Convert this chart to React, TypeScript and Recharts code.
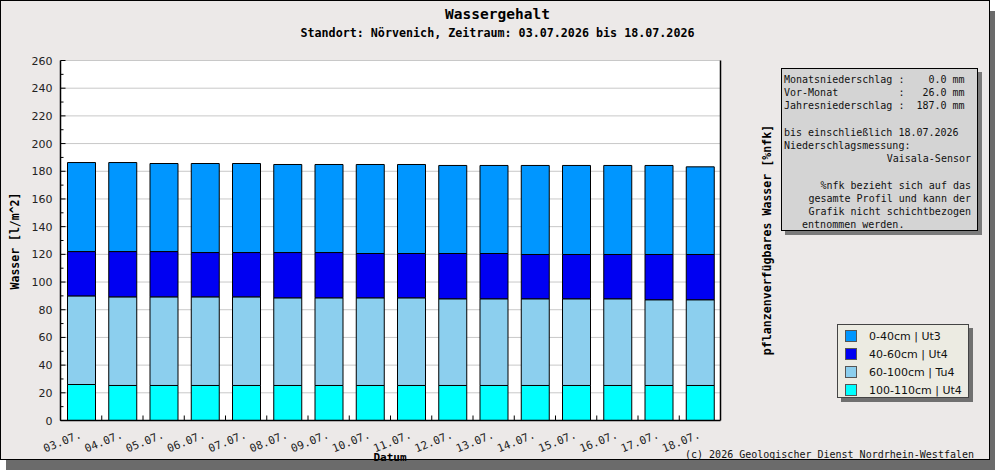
import { Bar, BarChart, CartesianGrid, XAxis, YAxis } from 'recharts'

const dates = ['03.07.', '04.07.', '05.07.', '06.07.', '07.07.', '08.07.', '09.07.', '10.07.', '11.07.', '12.07.', '13.07.', '14.07.', '15.07.', '16.07.', '17.07.', '18.07.']

// Wasser [l/m^2] je Schicht, von unten nach oben gestapelt
const layer100to110 = [26.0, 25.3, 25.3, 25.3, 25.3, 25.3, 25.3, 25.3, 25.3, 25.3, 25.3, 25.3, 25.3, 25.3, 25.3, 25.3]
const layer60to100 = [64.0, 64.0, 64.0, 64.0, 64.0, 63.3, 63.3, 63.3, 63.3, 62.6, 62.6, 62.6, 62.6, 62.6, 61.9, 61.9]
const layer40to60 = [32.0, 32.7, 32.7, 32.0, 32.0, 32.7, 32.7, 32.0, 32.0, 32.7, 32.7, 32.0, 32.0, 32.0, 32.7, 32.7]
const layer0to40 = [64.3, 64.3, 63.6, 64.3, 64.3, 63.6, 63.6, 64.3, 64.3, 63.6, 63.6, 64.3, 64.3, 64.3, 64.3, 63.3]

const series = [
    { key: 's100', name: '100-110cm | Ut4', values: layer100to110, color: '#00ffff' },
    { key: 's60', name: '60-100cm | Tu4', values: layer60to100, color: '#8ccfee' },
    { key: 's40', name: '40-60cm | Ut4', values: layer40to60, color: '#0000f2' },
    { key: 's0', name: '0-40cm | Ut3', values: layer0to40, color: '#0096ff' },
]

const leftTicks = [0, 10, 20, 30, 40, 50, 60, 70, 80, 90, 100, 110, 120, 130, 140, 150, 160, 170, 180, 190, 200, 210, 220, 230, 240, 250, 260]
const gridValues = [20, 40, 60, 80, 100, 120, 140, 160, 180, 200, 220, 240, 260]
const rightTicks = [0, 10, 20, 30, 40, 50, 60, 70, 80, 90, 100, 110, 120, 130, 140]

const infoLines = [
    { text: 'Monatsniederschlag :    0.0 mm' },
    { text: 'Vor-Monat          :   26.0 mm' },
    { text: 'Jahresniederschlag :  187.0 mm' },
    { text: ' ' },
    { text: 'bis einschließlich 18.07.2026' },
    { text: 'Niederschlagsmessung:' },
    { text: 'Vaisala-Sensor', right: true },
    { text: ' ' },
    { text: '%nfk bezieht sich auf das', right: true },
    { text: 'gesamte Profil und kann der', right: true },
    { text: 'Grafik nicht schichtbezogen', right: true },
    { text: '   entnommen werden.' },
]

const data = dates.map((date, i) => {
    const row: Record<string, string | number> = { date }
    series.forEach((s) => (row[s.key] = s.values[i]))
    return row
})

const mono = '"DejaVu Sans Mono", monospace'
const sans = '"DejaVu Sans", sans-serif'
const BAND = 660 / dates.length

const LeftTick = (props: any) => {
    const { x, y, payload } = props
    const major = payload.value % 20 === 0
    return (
        <g>
            <line x1={x + 8} x2={x + 8 + (major ? 5 : 3)} y1={y} y2={y} stroke="#000" />
            {major && (
                <text x={x} y={y + 4} textAnchor="end" fontSize={11} fill="#222" fontFamily={sans}>
                    {payload.value}
                </text>
            )}
        </g>
    )
}

const RightTick = (props: any) => {
    const { x, y, payload } = props
    const major = payload.value % 20 === 0
    return (
        <g>
            <line x1={x - 7} x2={x - 7 - (major ? 5 : 3)} y1={y} y2={y} stroke="#000" />
            {major && (
                <text x={x} y={y + 4} textAnchor="start" fontSize={11} fill="#222" fontFamily={sans}>
                    {payload.value}
                </text>
            )}
        </g>
    )
}

const DateTick = (props: any) => {
    const { x, y, payload } = props
    const tx = x + 1
    const ty = y + 17
    return (
        <g>
            <line x1={x - BAND / 2} x2={x - BAND / 2} y1={y} y2={y - 5} stroke="#000" />
            <text x={tx} y={ty} textAnchor="end" fontSize={11} fill="#222" fontFamily={mono} transform={`rotate(-22, ${tx}, ${ty})`}>
                {payload.value}
            </text>
        </g>
    )
}

export default function App() {
    return (
        <div style={{ position: 'absolute', left: 0, top: 0, width: 995, height: 470, overflow: 'hidden' }}>
            <div
                style={{
                    position: 'absolute',
                    left: 0,
                    top: 0,
                    width: 988,
                    height: 458,
                    border: '1px solid #000',
                    background: '#ece9e8',
                    boxShadow: '6px 11px 0 #6b6b6b',
                }}
            />
            <div style={{ position: 'absolute', left: 0, top: 0 }}>
                <BarChart width={995} height={470} data={data} margin={{ top: 60.5, right: 234.5, bottom: 19.5, left: 0 }}>
                    <CartesianGrid vertical={false} horizontalValues={gridValues} stroke="#c8c8c8" fill="#ffffff" />
                    <XAxis dataKey="date" interval={0} height={30} tickSize={0} tickMargin={0} tick={<DateTick />} axisLine={{ stroke: '#000', strokeWidth: 1.5 }} />
                    <YAxis
                        yAxisId={0}
                        width={60.5}
                        domain={[0, 260]}
                        ticks={leftTicks}
                        interval={0}
                        tickSize={0}
                        tickMargin={8}
                        tick={<LeftTick />}
                        axisLine={{ stroke: '#000', strokeWidth: 1.5 }}
                    />
                    <YAxis
                        yAxisId="right"
                        orientation="right"
                        width={40}
                        domain={[0, 140]}
                        ticks={rightTicks}
                        interval={0}
                        tickSize={0}
                        tickMargin={7}
                        tick={<RightTick />}
                        axisLine={{ stroke: '#000', strokeWidth: 1.5 }}
                    />
                    {series.map((s) => (
                        <Bar key={s.key} dataKey={s.key} name={s.name} stackId="w" yAxisId={0} fill={s.color} stroke="#000" strokeWidth={1} barSize={28} isAnimationActive={false} />
                    ))}
                </BarChart>
            </div>

            <div style={{ position: 'absolute', left: 0, width: 995, top: 6, textAlign: 'center', fontFamily: mono, fontWeight: 'bold', fontSize: 14.5 }}>
                Wassergehalt
            </div>
            <div style={{ position: 'absolute', left: 0, width: 995, top: 26, textAlign: 'center', fontFamily: mono, fontWeight: 'bold', fontSize: 11.7 }}>
                Standort: Nörvenich, Zeitraum: 03.07.2026 bis 18.07.2026
            </div>

            <div
                style={{
                    position: 'absolute',
                    left: 15,
                    top: 241,
                    transform: 'translate(-50%, -50%) rotate(-90deg)',
                    whiteSpace: 'nowrap',
                    fontFamily: mono,
                    fontWeight: 'bold',
                    fontSize: 11.5,
                }}
            >
                Wasser [l/m^2]
            </div>
            <div
                style={{
                    position: 'absolute',
                    left: 767,
                    top: 240,
                    transform: 'translate(-50%, -50%) rotate(-90deg)',
                    whiteSpace: 'nowrap',
                    fontFamily: mono,
                    fontWeight: 'bold',
                    fontSize: 11.6,
                }}
            >
                pflanzenverfügbares Wasser [%nfk]
            </div>

            <div style={{ position: 'absolute', left: 390, top: 457, transform: 'translate(-50%, -50%)', fontFamily: mono, fontWeight: 'bold', fontSize: 11 }}>
                Datum
            </div>
            <div style={{ position: 'absolute', right: 21, top: 449, fontFamily: mono, fontSize: 10, color: '#111', whiteSpace: 'nowrap' }}>
                (c) 2026 Geologischer Dienst Nordrhein-Westfalen
            </div>

            <div
                style={{
                    position: 'absolute',
                    left: 781,
                    top: 68,
                    width: 187,
                    height: 155,
                    padding: '4px 6px 2px 2px',
                    border: '1px solid #000',
                    background: '#d4d4d4',
                    boxShadow: '4px 4px 0 #7a7a7a',
                    fontFamily: mono,
                    fontSize: 10,
                    lineHeight: '13.2px',
                    whiteSpace: 'pre',
                    color: '#111',
                }}
            >
                {infoLines.map((l, i) => (
                    <div key={i} style={{ textAlign: l.right ? 'right' : 'left' }}>
                        {l.text}
                    </div>
                ))}
            </div>

            <div
                style={{
                    position: 'absolute',
                    left: 837,
                    top: 324,
                    width: 130,
                    height: 72,
                    border: '1px solid #444',
                    background: '#ecebe2',
                    boxShadow: '4px 4px 0 #707070',
                    fontFamily: sans,
                    fontSize: 11,
                    color: '#111',
                }}
            >
                {[...series].reverse().map((s, i) => (
                    <div key={s.key} style={{ position: 'absolute', left: 7, top: 5 + i * 18, height: 12, display: 'flex', alignItems: 'center' }}>
                        <div style={{ width: 10, height: 10, background: s.color, border: '1px solid #555' }} />
                        <span style={{ marginLeft: 12, whiteSpace: 'nowrap' }}>{s.name}</span>
                    </div>
                ))}
            </div>
        </div>
    )
}
